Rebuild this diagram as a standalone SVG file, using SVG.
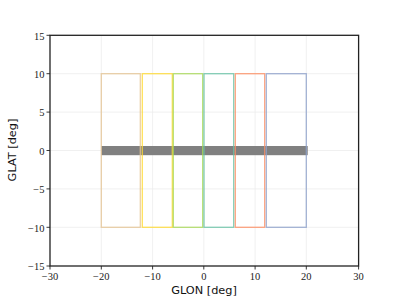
<svg xmlns="http://www.w3.org/2000/svg" width="399" height="299" viewBox="0 0 399 299">
<style>
.grid{stroke:#ececec;stroke-width:0.8;fill:none}
.tick{stroke:#222;stroke-width:0.9}
.tl{font-family:"Liberation Serif",serif;font-size:10.5px;fill:#222}
.al{font-family:"DejaVu Sans",sans-serif;font-size:11.3px;fill:#111}
.reg{fill:none;stroke-width:1.3;stroke-opacity:0.8}
</style>
<rect width="399" height="299" fill="#fff"/>
<g id="grid">
<line class="grid" x1="101.3" y1="35.3" x2="101.3" y2="266"/>
<line class="grid" x1="152.6" y1="35.3" x2="152.6" y2="266"/>
<line class="grid" x1="203.8" y1="35.3" x2="203.8" y2="266"/>
<line class="grid" x1="255.1" y1="35.3" x2="255.1" y2="266"/>
<line class="grid" x1="306.3" y1="35.3" x2="306.3" y2="266"/>
<line class="grid" x1="50" y1="73.7" x2="358.6" y2="73.7"/>
<line class="grid" x1="50" y1="112.1" x2="358.6" y2="112.1"/>
<line class="grid" x1="50" y1="150.5" x2="358.6" y2="150.5"/>
<line class="grid" x1="50" y1="188.9" x2="358.6" y2="188.9"/>
<line class="grid" x1="50" y1="227.3" x2="358.6" y2="227.3"/>
</g>
<g id="band">
<rect x="101.3" y="146" width="206.4" height="9.2" fill="#808080"/>
</g>
<g id="regions">
<rect id="r1" class="reg" x="101.3" y="73.7" width="39" height="153.6" stroke="#e5c494"/>
<rect id="r2" class="reg" x="142.3" y="73.7" width="30" height="153.6" stroke="#ffd92f"/>
<rect id="r3" class="reg" x="173.3" y="73.7" width="29.4" height="153.6" stroke="#a6d854"/>
<rect id="r4" class="reg" x="204" y="73.7" width="29.7" height="153.6" stroke="#66c2a5"/>
<rect id="r5" class="reg" x="235.3" y="73.7" width="29.4" height="153.6" stroke="#fc8d62"/>
<rect id="r6" class="reg" x="266.3" y="73.7" width="40" height="153.6" stroke="#8da0cb"/>
</g>
<g id="axes">
<rect x="50" y="35.3" width="308.6" height="230.7" fill="none" stroke="#222" stroke-width="1.3"/>
<g class="tick">
<line x1="50" y1="266" x2="50" y2="269.5"/>
<line x1="101.3" y1="266" x2="101.3" y2="269.5"/>
<line x1="152.6" y1="266" x2="152.6" y2="269.5"/>
<line x1="203.8" y1="266" x2="203.8" y2="269.5"/>
<line x1="255.1" y1="266" x2="255.1" y2="269.5"/>
<line x1="306.3" y1="266" x2="306.3" y2="269.5"/>
<line x1="358.6" y1="266" x2="358.6" y2="269.5"/>
<line x1="46.5" y1="35.3" x2="50" y2="35.3"/>
<line x1="46.5" y1="73.7" x2="50" y2="73.7"/>
<line x1="46.5" y1="112.1" x2="50" y2="112.1"/>
<line x1="46.5" y1="150.5" x2="50" y2="150.5"/>
<line x1="46.5" y1="188.9" x2="50" y2="188.9"/>
<line x1="46.5" y1="227.3" x2="50" y2="227.3"/>
<line x1="46.5" y1="266" x2="50" y2="266"/>
</g>
<g class="tl" text-anchor="middle">
<text x="50" y="280">−30</text>
<text x="101.3" y="280">−20</text>
<text x="152.6" y="280">−10</text>
<text x="203.8" y="280">0</text>
<text x="255.1" y="280">10</text>
<text x="306.3" y="280">20</text>
<text x="358.6" y="280">30</text>
</g>
<g class="tl" text-anchor="end">
<text x="44.5" y="39.5">15</text>
<text x="44.5" y="77.9">10</text>
<text x="44.5" y="116.3">5</text>
<text x="44.5" y="154.7">0</text>
<text x="44.5" y="193.1">−5</text>
<text x="44.5" y="231.5">−10</text>
<text x="44.5" y="270.2">−15</text>
</g>
<text class="al" x="204" y="293.5" text-anchor="middle">GLON [deg]</text>
<text class="al" transform="translate(16,150) rotate(-90)" text-anchor="middle">GLAT [deg]</text>
</g>
</svg>
